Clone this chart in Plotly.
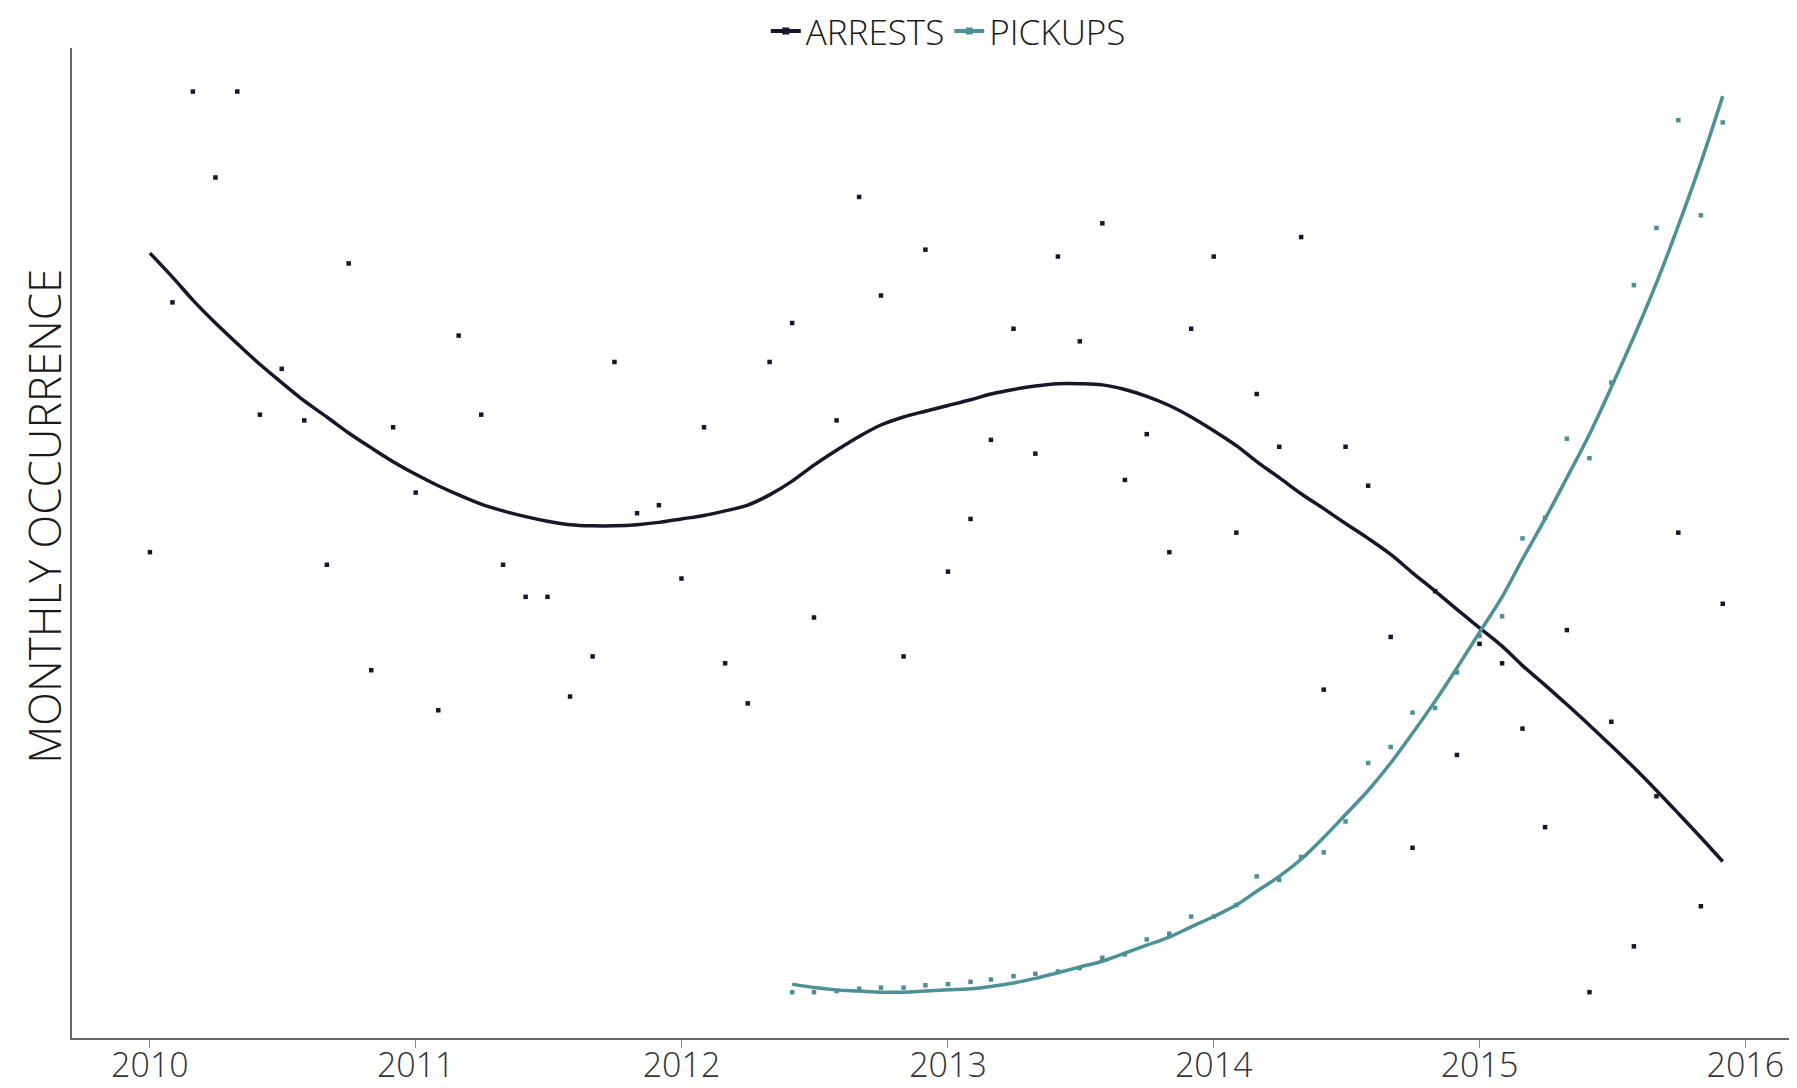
import pandas as pd
import plotly.graph_objects as go

# Monthly categories
arrest_months = pd.date_range("2010-01-01", periods=72, freq="MS")
pickup_months = pd.date_range("2012-06-01", periods=43, freq="MS")

# Monthly arrests (arbitrary units)
arrests = [424, 642, 826, 751, 826, 544, 584, 539, 413, 676, 321, 533,
           476, 286, 613, 544, 413, 385, 385, 298, 333, 590, 458, 465,
           401, 533, 327, 292, 590, 624, 367, 539, 734, 648, 333, 688,
           407, 453, 522, 619, 510, 682, 608, 711, 487, 527, 424, 619,
           682, 441, 562, 516, 699, 304, 516, 482, 350, 166, 390, 247,
           344, 327, 270, 184, 356, 40, 276, 80, 211, 441, 115, 379]

# Monthly pickups
pickups = [40, 40, 41, 43, 44, 44, 46,
           47, 49, 51, 54, 56, 58, 61, 70, 73, 86, 91, 106,
           106, 116, 141, 138, 158, 162, 189, 240, 254, 284, 288, 319,
           351, 368, 436, 454, 523, 506, 572, 657, 707, 801, 718, 799]

# Smoothed trends
arrests_trend = [685, 664, 644, 624, 606, 588, 572, 556, 542, 528, 515, 503,
                 492, 482, 474, 466, 460, 455, 451, 448, 447, 447, 448, 450,
                 453, 456, 460, 465, 474, 486, 500, 513, 525, 535, 542, 547,
                 552, 557, 562, 566, 569, 571, 571, 570, 566, 560, 552, 542,
                 530, 517, 503, 489, 475, 462, 449, 436, 422, 406, 390, 374,
                 358, 342, 325, 308, 291, 273, 255, 236, 216, 196, 175, 154]

pickups_trend = [47, 44, 42, 41, 40, 40, 41,
                 42, 43, 45, 48, 52, 57, 62, 67, 74, 81, 88, 97,
                 106, 116, 128, 141, 156, 175, 195, 216, 240, 266, 294, 323,
                 354, 385, 418, 453, 489, 527, 568, 612, 659, 709, 764, 822]

DARK = "#17162a"
TEAL = "#4b9197"
FONT = "Open Sans"

fig = go.Figure()

fig.add_trace(go.Scatter(x=arrest_months, y=arrests, mode="markers",
                         marker=dict(symbol="square", size=4.5, color=DARK),
                         showlegend=False))
fig.add_trace(go.Scatter(x=pickup_months, y=pickups, mode="markers",
                         marker=dict(symbol="square", size=4.5, color=TEAL),
                         showlegend=False))
fig.add_trace(go.Scatter(x=arrest_months, y=arrests_trend, mode="lines",
                         line=dict(color=DARK, width=3.5, shape="spline", smoothing=1),
                         showlegend=False))
fig.add_trace(go.Scatter(x=pickup_months, y=pickups_trend, mode="lines",
                         line=dict(color=TEAL, width=3.5, shape="spline", smoothing=1),
                         showlegend=False))
# legend entries
fig.add_trace(go.Scatter(x=[None], y=[None], mode="lines+markers", name="ARRESTS",
                         line=dict(color=DARK, width=4),
                         marker=dict(symbol="square", size=7, color=DARK)))
fig.add_trace(go.Scatter(x=[None], y=[None], mode="lines+markers", name="PICKUPS",
                         line=dict(color=TEAL, width=4),
                         marker=dict(symbol="square", size=7, color=TEAL)))

# The page body adds an 8px offset, so the figure is sized to fit the window.
fig.update_layout(
    width=1789, height=1080,
    margin=dict(l=64, r=0, t=40, b=50, autoexpand=False),
    paper_bgcolor="white", plot_bgcolor="white",
    font=dict(family=FONT, color="#222222"),
    legend=dict(orientation="h", x=0.508, xanchor="center", y=1.017, yanchor="middle",
                font=dict(family=FONT, size=35, color="#1a1a1a", weight=300),
                itemwidth=30, tracegroupgap=0, bgcolor="rgba(0,0,0,0)"),
    xaxis=dict(type="date", range=["2009-09-16", "2016-03-12"],
               tick0="2010-01-01", dtick="M12", tickformat="%Y",
               showgrid=False, zeroline=False,
               showline=True, linecolor="#666666", linewidth=1.5,
               ticks="outside", ticklen=8, tickcolor="#888888", tickwidth=1,
               ticklabelstandoff=-12,
               tickfont=dict(family=FONT, size=34, color="#333333", weight=300)),
    yaxis=dict(range=[0, 864], showgrid=False, zeroline=False,
               showticklabels=False, ticks="",
               showline=True, linecolor="#666666", linewidth=1.5),
    annotations=[dict(text="MONTHLY OCCURRENCE", textangle=-90,
                      xref="paper", yref="paper", x=-0.016, y=0.527,
                      xanchor="center", yanchor="middle", showarrow=False,
                      font=dict(family=FONT, size=44, color="#1a1a1a", weight=300))],
)

fig.write_html("out.html")
